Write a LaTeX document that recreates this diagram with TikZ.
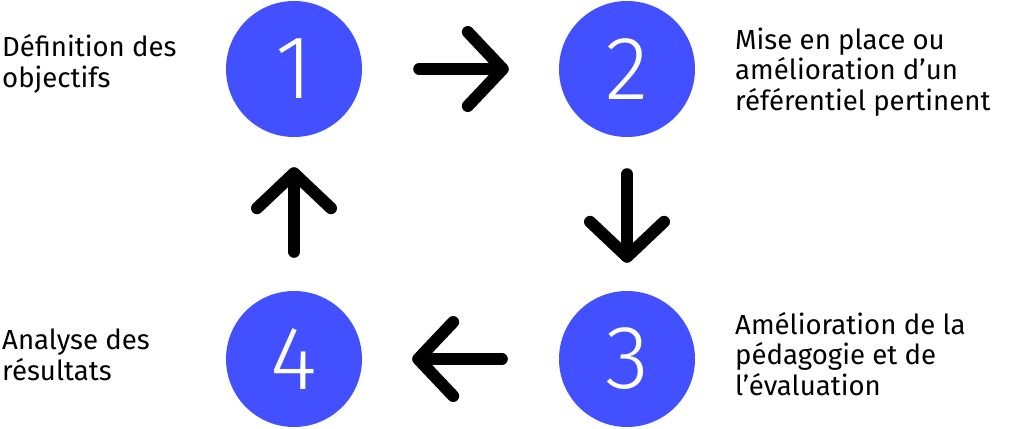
\documentclass[tikz,border=0pt]{standalone}
\usepackage{fontspec}
\setmainfont{Fira Sans}
\newfontfamily\numfont{Fira Sans Light}
\usepackage{tikz}
\usetikzlibrary{arrows.meta, positioning}
\definecolor{cblue}{HTML}{4350FF}

\tikzset{
  step circle/.style={circle, fill=cblue, minimum size=136pt, inner sep=0pt,
    text=white, font=\numfont\fontsize{90}{90}\selectfont},
  flow/.style={line width=12pt, line cap=round,
    -{Straight Barb[length=35pt, width=74pt, line cap=round, line join=round]}},
  lbl/.style={inner sep=0pt, align=left, anchor=base west,
    font=\fontsize{27.6}{30.5}\selectfont}
}

\begin{document}
\begin{tikzpicture}[x=1pt, y=-1pt]
  \useasboundingbox (0,0) rectangle (1024,428);
  % the four steps
  \node[step circle] (c1) at (294,69) {1};
  \node[step circle] (c2) at (627,69) {2};
  \node[step circle] (c3) at (627,359) {3};
  \node[step circle] (c4) at (294,359) {4};
  % connectors of the cycle
  \draw[flow, shorten <=57pt, shorten >=50pt] (c1) -- (c2);
  \draw[flow, shorten <=37pt, shorten >=28pt] (c2) -- (c3);
  \draw[flow, shorten <=57pt, shorten >=50pt] (c3) -- (c4);
  \draw[flow, shorten <=39pt, shorten >=30pt] (c4) -- (c1);
  % labels
  \node[lbl] (t1) at (2,87) {Définition des\\objectifs};
  \node[lbl] (t2) at (735,110) {Mise en place ou\\amélioration d’un\\référentiel pertinent};
  \node[lbl] (t3) at (735,395) {Amélioration de la\\pédagogie et de\\l’évaluation};
  \node[lbl] (t4) at (2,380) {Analyse des\\résultats};
\end{tikzpicture}
\end{document}
